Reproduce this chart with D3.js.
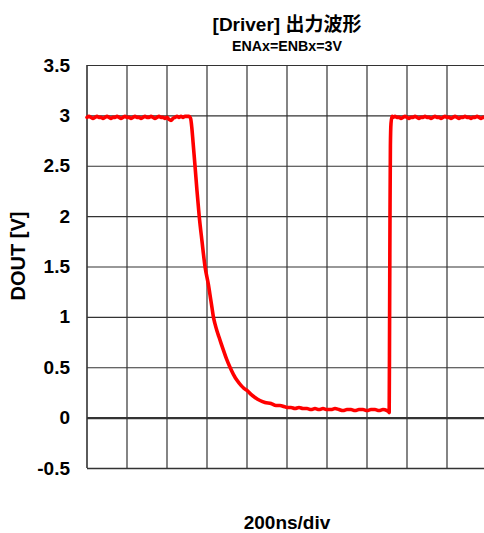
<!DOCTYPE html>
<html>
<head>
<meta charset="utf-8">
<script src="https://cdn.jsdelivr.net/npm/d3@7/dist/d3.min.js"></script>
<style>
  html, body { margin: 0; padding: 0; background: #fff; }
  svg { display: block; }
  text { font-family: "Liberation Sans", Arial, "Noto Sans CJK JP", sans-serif; font-weight: bold; fill: #000; }
</style>
</head>
<body>
<svg id="chart" width="484" height="533"></svg>
<script>
// Chart texts
const chartTitle = "[Driver] 出力波形";
const chartSubtitle = "ENAx=ENBx=3V";
const yAxisTitle = "DOUT [V]";
const xAxisTitle = "200ns/div";

// Axis ticks
const yTicks = [-0.5, 0, 0.5, 1, 1.5, 2, 2.5, 3, 3.5];
const xDivisionsNs = [0, 200, 400, 600, 800, 1000, 1200, 1400, 1600, 1800, 2000];

// Output waveform: sample times (ns) and DOUT voltage (V)
const timeNs = [
  0, 10, 20, 30, 40, 50, 60, 70, 80, 90,
  100, 110, 120, 130, 140, 150, 160, 170, 180, 190,
  200, 210, 220, 230, 240, 250, 260, 270, 280, 290,
  300, 310, 320, 330, 340, 350, 360, 370, 380, 390,
  400, 410, 420, 430, 440, 450, 460, 470, 480, 490,
  500, 510,
  518, 524, 530, 540, 550, 561, 575, 590, 607, 618,
  625, 631, 640, 650, 660, 670, 682, 698, 715, 732,
  750, 770, 785, 800, 820, 840, 865, 890, 920, 945,
  965, 985, 1000,
  1020, 1040, 1060, 1080, 1100, 1120, 1140, 1160, 1180, 1200,
  1220, 1240, 1260, 1280, 1300, 1320, 1340, 1360, 1380, 1400,
  1420, 1440, 1460, 1480, 1500, 1508, 1511,
  1513, 1515, 1517, 1520, 1525,
  1530, 1540, 1550, 1560, 1570, 1580, 1590, 1600, 1610, 1620,
  1630, 1640, 1650, 1660, 1670, 1680, 1690, 1700, 1710, 1720,
  1730, 1740, 1750, 1760, 1770, 1780, 1790, 1800, 1810, 1820,
  1830, 1840, 1850, 1860, 1870, 1880, 1890, 1900, 1910, 1920,
  1930, 1940, 1950, 1960, 1970, 1980, 1990, 2000
];
const doutV = [
  2.98, 2.99, 2.98, 2.97, 2.98, 2.99, 2.98, 2.98, 2.97, 2.98,
  2.99, 2.98, 2.97, 2.98, 2.98, 2.99, 2.98, 2.97, 2.98, 2.99,
  2.98, 2.98, 2.97, 2.98, 2.99, 2.98, 2.98, 2.97, 2.98, 2.99,
  2.98, 2.98, 2.99, 2.98, 2.97, 2.98, 2.99, 2.98, 2.98, 2.97,
  2.98, 2.96, 2.95, 2.97, 2.98, 2.99, 2.98, 2.99, 2.98, 2.99,
  2.99, 2.99,
  2.97, 2.88, 2.74, 2.50, 2.25, 2.00, 1.75, 1.50, 1.32, 1.18,
  1.09, 1.01, 0.93, 0.86, 0.80, 0.74, 0.67, 0.58, 0.50, 0.43,
  0.37, 0.32, 0.29, 0.27, 0.23, 0.20, 0.17, 0.15, 0.14, 0.12,
  0.12, 0.11, 0.10,
  0.10, 0.09, 0.10, 0.09, 0.09, 0.08, 0.09, 0.08, 0.09, 0.08,
  0.08, 0.09, 0.08, 0.07, 0.08, 0.08, 0.07, 0.08, 0.08, 0.07,
  0.08, 0.08, 0.07, 0.08, 0.07, 0.06, 0.05,
  1.00, 2.00, 2.70, 2.92, 2.99,
  2.98, 2.99, 2.98, 2.98, 2.97, 2.98, 2.99, 2.98, 2.97, 2.98,
  2.98, 2.99, 2.98, 2.97, 2.98, 2.98, 2.99, 2.98, 2.98, 2.97,
  2.98, 2.99, 2.98, 2.98, 2.97, 2.98, 2.99, 2.98, 2.98, 2.97,
  2.98, 2.99, 2.98, 2.97, 2.98, 2.98, 2.99, 2.98, 2.98, 2.97,
  2.98, 2.98, 2.99, 2.98, 2.97, 2.98, 2.98, 2.99
];

const svg = d3.select("#chart");
const plot = { left: 87, top: 65, right: 487, bottom: 468 };

const x = d3.scaleLinear().domain([0, 2000]).range([plot.left, plot.right]);
const y = d3.scaleLinear().domain([-0.5, 3.5]).range([plot.bottom, plot.top]);

// Horizontal grid + y tick labels
const yAxis = d3.axisLeft(y)
  .tickValues(yTicks)
  .tickSize(-(plot.right - plot.left))
  .tickPadding(17)
  .tickFormat(d => String(d));

const gy = svg.append("g")
  .attr("transform", `translate(${plot.left},0)`)
  .call(yAxis);
gy.select(".domain").remove();
gy.selectAll(".tick line")
  .attr("stroke", "#333")
  .attr("stroke-width", d => d === 0 ? 2.2 : (d === -0.5 ? 1.6 : 1.2));
gy.selectAll(".tick text")
  .attr("font-size", 19)
  .attr("font-family", "Liberation Sans, Arial, sans-serif")
  .attr("font-weight", "bold")
  .attr("fill", "#000");

// Vertical grid (one line per division)
svg.append("g")
  .selectAll("line")
  .data(xDivisionsNs)
  .join("line")
  .attr("x1", d => x(d))
  .attr("x2", d => x(d))
  .attr("y1", plot.top)
  .attr("y2", plot.bottom)
  .attr("stroke", "#333")
  .attr("stroke-width", d => d === 0 ? 1.6 : 1.2);

// Waveform
const samples = timeNs.map((t, i) => ({ t, v: doutV[i] }));
const line = d3.line()
  .x(d => x(d.t))
  .y(d => y(d.v))
  .curve(d3.curveMonotoneX);

svg.append("path")
  .datum(samples)
  .attr("fill", "none")
  .attr("stroke", "#ff0000")
  .attr("stroke-width", 3.6)
  .attr("stroke-linejoin", "round")
  .attr("stroke-linecap", "round")
  .attr("d", line);

// Titles
const cx = (plot.left + plot.right) / 2;
svg.append("text")
  .attr("x", cx).attr("y", 31)
  .attr("text-anchor", "middle")
  .attr("font-size", 19)
  .text(chartTitle);

svg.append("text")
  .attr("x", cx).attr("y", 51)
  .attr("text-anchor", "middle")
  .attr("font-size", 14)
  .attr("textLength", 110)
  .attr("lengthAdjust", "spacingAndGlyphs")
  .text(chartSubtitle);

svg.append("text")
  .attr("transform", `translate(25,256) rotate(-90)`)
  .attr("text-anchor", "middle")
  .attr("font-size", 20)
  .text(yAxisTitle);

svg.append("text")
  .attr("x", cx).attr("y", 529)
  .attr("text-anchor", "middle")
  .attr("font-size", 19)
  .text(xAxisTitle);
</script>
</body>
</html>
